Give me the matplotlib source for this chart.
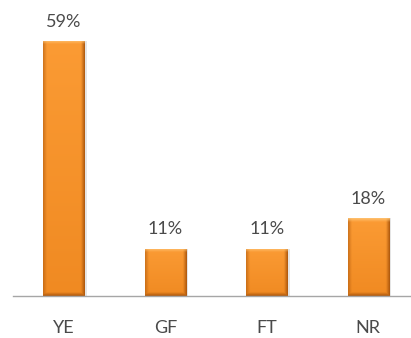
# Bar chart of response shares with bevelled orange bars.

import matplotlib.pyplot as plt
import numpy as np
from matplotlib.colors import to_rgb

categories = ["YE", "GF", "FT", "NR"]
shares = [59, 11, 11, 18]
value_labels = ["59%", "11%", "11%", "18%"]

plt.rcParams["font.family"] = ["Lato", "DejaVu Sans"]

TOP = np.array(to_rgb("#FB9B34"))
BOTTOM = np.array(to_rgb("#F08A22"))
LIGHT = np.array(to_rgb("#FFC778"))
DARK = np.array(to_rgb("#A6520A"))
TEXT = "#4A4A4A"


def bevel_image(w_px, h_px, bevel=4):
    """RGB array for a bar with a light top edge and dark sides/bottom."""
    w_px, h_px = max(int(w_px), 2), max(int(h_px), 2)
    xs = np.arange(w_px) + 0.5
    ys = np.arange(h_px) + 0.5  # row 0 = top of bar
    X, Y = np.meshgrid(xs, ys)
    t = (Y / h_px)[..., None]
    img = TOP * (1 - t) + BOTTOM * t
    dl = np.clip(1 - X / bevel, 0, 1)
    dr = np.clip(1 - (w_px - X) / bevel, 0, 1)
    db = np.clip(1 - (h_px - Y) / bevel, 0, 1)
    dt = np.clip(1 - Y / bevel, 0, 1)
    dark = np.maximum(np.maximum(dl * 0.55, dr * 0.95), db * 0.95)
    img = img * (1 - dark[..., None]) + DARK * dark[..., None]
    light = dt * 0.9
    img = img * (1 - light[..., None]) + LIGHT * light[..., None]
    return img


fig = plt.figure(figsize=(4.11, 3.38), dpi=100)
ax = fig.add_axes([0.0316, 0.124, 0.9684, 0.876])

x = np.arange(len(categories))
width = 0.405
bars = ax.bar(x, shares, width=width, color="none", edgecolor="none", zorder=2)
ax.set_xlim(-0.503, 3.424)
ax.set_ylim(0, 68.5)

fig.canvas.draw()
to_px = ax.transData
for bar in bars:
    x0, y0 = bar.get_x(), bar.get_y()
    x1, y1 = x0 + bar.get_width(), y0 + bar.get_height()
    (px0, py0), (px1, py1) = to_px.transform([(x0, y0), (x1, y1)])
    img = bevel_image(px1 - px0, py1 - py0)
    # soft shadow on the right
    ax.bar(bar.get_x() + bar.get_width() / 2 + 0.025, bar.get_height(),
           width=bar.get_width(), color="#000000", alpha=0.10,
           edgecolor="none", zorder=1)
    im = ax.imshow(img, extent=(x0, x1, y0, y1), aspect="auto",
                   interpolation="bilinear", zorder=2)
    im.set_clip_path(bar)

for xi, val, lab in zip(x, shares, value_labels):
    ax.annotate(lab, (xi, val), xytext=(0, 8), textcoords="offset points",
                ha="center", va="bottom", fontsize=13, color=TEXT)

ax.set_xticks(x)
ax.set_xticklabels(categories, fontsize=13, color=TEXT)
ax.tick_params(axis="x", length=0, pad=17)
ax.set_yticks([])
for side in ("top", "right", "left"):
    ax.spines[side].set_visible(False)
ax.spines["bottom"].set_color("#A6A6A6")
ax.spines["bottom"].set_linewidth(1.0)
ax.spines["bottom"].set_zorder(3)

fig.savefig("out.png", dpi=100)
